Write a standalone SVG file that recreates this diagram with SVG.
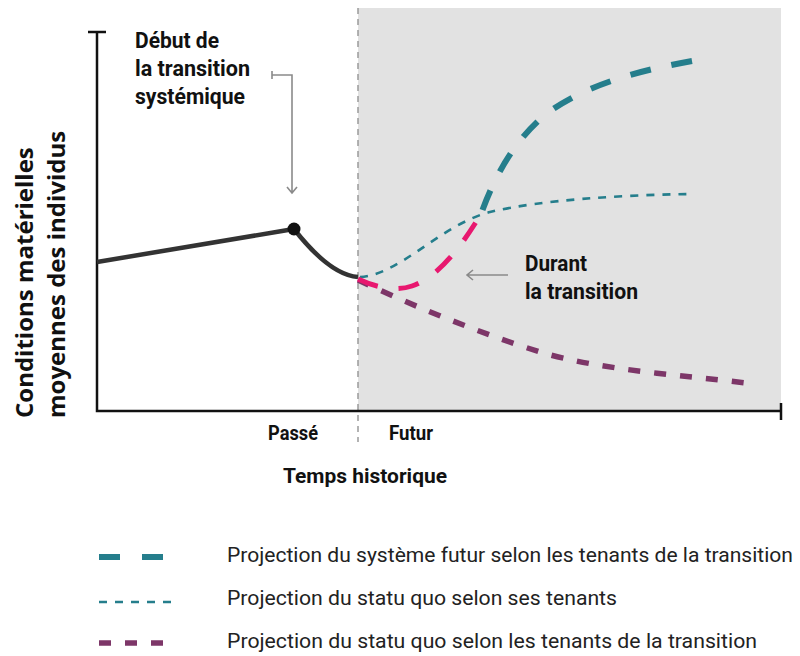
<svg xmlns="http://www.w3.org/2000/svg" width="800" height="656" viewBox="0 0 800 656">
<style>
.cond{font-family:Roboto,"Liberation Sans",sans-serif;fill:#111}
.b{font-weight:700}
.leg{font-family:Roboto,"Liberation Sans",sans-serif;font-size:21px;fill:#222}
.ylab{font-family:"Open Sans","DejaVu Sans",sans-serif;font-weight:700;font-size:24px;fill:#111}
.axis{stroke:#111;stroke-width:2.5;fill:none}
.note{stroke:#8a8a8a;stroke-width:1.6;fill:none}
.thick{stroke:#257E8C;stroke-width:6;fill:none;stroke-dasharray:21 21}
.pink{stroke:#E8186F;stroke-width:5;fill:none;stroke-dasharray:21 21}
.thin{stroke:#257E8C;stroke-width:2.6;fill:none;stroke-dasharray:8 8}
.purple{stroke:#7D3668;stroke-width:5.5;fill:none;stroke-dasharray:12 14}
</style>
<rect id="future-area" x="358" y="8" width="423" height="403" fill="#E2E2E2"/>
<line x1="358" y1="8" x2="358" y2="442" stroke="#9a9a9a" stroke-width="1.5" stroke-dasharray="6 5"/>
<g id="axes">
<path class="axis" d="M88,32 H106 M97,32 V411 H781 M781,403 V420"/>
</g>
<g id="connectors">
<path d="M97,262 L294,229 Q330,275 358,277" stroke="#333" stroke-width="4.5" fill="none"/>
<path class="thin" d="M360,277 C400,275 440,225 490,212 C540,200 620,195 692,194"/>
<path class="purple" d="M358,280 C400,300 470,330 540,352 C600,370 680,375 746,383"/>
<path class="pink" d="M358,279 C375,287 395,292 412,286 C440,276 462,245 481,214"/>
<path class="thick" d="M692,61 C630,72 580,88 545,115 C515,140 495,175 481,214"/>
<path class="note" d="M272,71 V79 M272,75 H292 V193 M287,187 L292,193 L297,187"/>
<path class="note" d="M508,275 H467 M473,270 L467,275 L473,280"/>
</g>
<g id="start-point">
<circle cx="294" cy="229" r="6.5" fill="#111"/>
</g>
<g id="label-debut">
<text class="cond b" font-size="22" x="135" y="48" textLength="84" lengthAdjust="spacingAndGlyphs">Début de</text>
<text class="cond b" font-size="22" x="135" y="76" textLength="115" lengthAdjust="spacingAndGlyphs">la transition</text>
<text class="cond b" font-size="22" x="135" y="104" textLength="110" lengthAdjust="spacingAndGlyphs">systémique</text>
</g>
<g id="label-durant">
<text class="cond b" font-size="22" x="525" y="271" textLength="62" lengthAdjust="spacingAndGlyphs">Durant</text>
<text class="cond b" font-size="22" x="525" y="299" textLength="113" lengthAdjust="spacingAndGlyphs">la transition</text>
</g>
<g id="x-labels">
<text class="cond b" font-size="21" x="268" y="440" textLength="50" lengthAdjust="spacingAndGlyphs">Passé</text>
<text class="cond b" font-size="21" x="389" y="440" textLength="44" lengthAdjust="spacingAndGlyphs">Futur</text>
<text class="cond b" font-size="21" x="283" y="483" textLength="164" lengthAdjust="spacingAndGlyphs">Temps historique</text>
</g>
<g id="y-label">
<text class="ylab" transform="translate(33,418) rotate(-90)">Conditions matérielles</text>
<text class="ylab" transform="translate(65,418) rotate(-90)">moyennes des individus</text>
</g>
<g id="legend">
<line x1="99" y1="557" x2="163" y2="557" stroke="#257E8C" stroke-width="6" stroke-dasharray="21 22"/>
<line x1="99" y1="602" x2="171" y2="602" stroke="#257E8C" stroke-width="2.6" stroke-dasharray="8 8"/>
<line x1="99" y1="643" x2="164" y2="643" stroke="#7D3668" stroke-width="5.5" stroke-dasharray="12 14"/>
<text class="leg" x="227" y="562" textLength="566" lengthAdjust="spacingAndGlyphs">Projection du système futur selon les tenants de la transition</text>
<text class="leg" x="227" y="605" textLength="390" lengthAdjust="spacingAndGlyphs">Projection du statu quo selon ses tenants</text>
<text class="leg" x="227" y="648" textLength="530" lengthAdjust="spacingAndGlyphs">Projection du statu quo selon les tenants de la transition</text>
</g>
</svg>
